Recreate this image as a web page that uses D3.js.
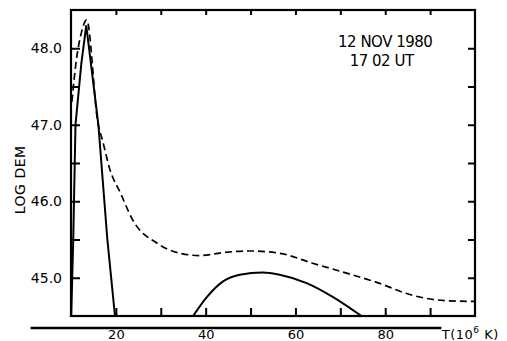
<!doctype html>
<meta charset="utf-8">
<style>
    body { margin: 0; background: #fff; }
    text { font-family: "DejaVu Sans", "Liberation Sans", sans-serif; fill: #000; }
    .axis path.domain { display: none; }
    .axis line { stroke: #000; stroke-width: 2; }
</style>
<html>
<head>
    <script src="https://d3js.org/d3.v7.min.js"></script>
</head>
<body>
<div id="dem_chart"></div>
<script>

    // tick labels
    var tempLabels = [20, 40, 60, 80];
    var tempTicks = [20, 30, 40, 50, 60, 70, 80, 90];
    var demLabels = [45.0, 46.0, 47.0, 48.0];
    var demTicks = [45.0, 45.5, 46.0, 46.5, 47.0, 47.5, 48.0];

    // low temperature peak (solid)
    var peakT   = [10.05, 10.5, 11.0, 12.3, 13.4, 16.1, 18.1, 19.8];
    var peakDem = [44.5, 45.5, 47.0, 47.8, 48.3, 47.0, 45.5, 44.5];

    // hot component (solid)
    var humpT   = [37.2, 40.3, 43.8, 47.6, 52.7, 56.5, 62.5, 68.3, 74.7];
    var humpDem = [44.5, 44.75, 44.95, 45.04, 45.07, 45.04, 44.93, 44.75, 44.5];

    // total (dashed)
    var totalT   = [10.2, 11.2, 12.3, 13.5, 16.0, 17.0, 18.7, 21.0, 23.8, 29.2, 34.3, 38.7, 44.0, 49.8, 56.5, 63.8, 71.4, 78.1, 86.1, 93.6, 100];
    var totalDem = [47.3, 47.85, 48.2, 48.37, 47.02, 46.8, 46.41, 46.11, 45.75, 45.45, 45.32, 45.29, 45.33, 45.35, 45.32, 45.19, 45.06, 44.94, 44.77, 44.70, 44.69];

    var width = 507, height = 341;
    var margin = {top: 10, right: 32, bottom: 25, left: 71};

    var svg = d3.select("#dem_chart")
        .append("svg")
        .attr("width", width)
        .attr("height", height);

    var x = d3.scaleLinear().domain([10, 100]).range([margin.left, width - margin.right]);
    var y = d3.scaleLinear().domain([44.5, 48.5]).range([height - margin.bottom, margin.top]);

    svg.append("clipPath").attr("id", "frame")
        .append("rect")
        .attr("x", x(10)).attr("y", y(48.5))
        .attr("width", x(100) - x(10)).attr("height", y(44.5) - y(48.5));

    // inward ticks on all four sides
    svg.append("g").attr("class", "axis")
        .attr("transform", "translate(" + x(10) + ",0)")
        .call(d3.axisLeft(y).tickValues(demTicks).tickSizeInner(-9).tickSizeOuter(0).tickPadding(9)
            .tickFormat(function(d) { return demLabels.indexOf(d) >= 0 ? d3.format(".1f")(d) : ""; }))
        .selectAll("text")
        .style("font-size", "14px");

    svg.append("g").attr("class", "axis")
        .attr("transform", "translate(" + x(100) + ",0)")
        .call(d3.axisRight(y).tickValues(demTicks).tickSizeInner(-7).tickSizeOuter(0).tickFormat(""));

    svg.append("g").attr("class", "axis")
        .attr("transform", "translate(0," + y(48.5) + ")")
        .call(d3.axisTop(x).tickValues(tempTicks).tickSizeInner(-5).tickSizeOuter(0).tickFormat(""));

    svg.append("g").attr("class", "axis")
        .attr("transform", "translate(0," + y(44.5) + ")")
        .call(d3.axisBottom(x).tickValues(tempTicks).tickSizeInner(-8).tickSizeOuter(0).tickFormat(""));

    // frame
    svg.append("rect")
        .attr("x", x(10)).attr("y", y(48.5))
        .attr("width", x(100) - x(10)).attr("height", y(44.5) - y(48.5))
        .attr("fill", "none").attr("stroke", "#000").attr("stroke-width", 2.2);

    // separate temperature axis underneath
    var axisY = y(44.5) + 12;
    svg.append("line")
        .attr("x1", x(1)).attr("x2", x(92.5))
        .attr("y1", axisY).attr("y2", axisY)
        .attr("stroke", "#000").attr("stroke-width", 2.5);

    svg.append("g").attr("class", "axis")
        .attr("transform", "translate(0," + axisY + ")")
        .call(d3.axisBottom(x).tickValues(tempLabels).tickSize(0).tickPadding(2))
        .selectAll("text")
        .style("font-size", "13px");

    var unit = svg.append("text")
        .attr("x", x(92.6))
        .attr("y", axisY + 11)
        .style("font-size", "13px")
        .attr("letter-spacing", "0.5px");
    unit.append("tspan").text("T(10");
    unit.append("tspan").attr("dy", -6).style("font-size", "9px").text("6");
    unit.append("tspan").attr("dy", 6).text(" K)");

    svg.append("text")
        .attr("transform", "translate(25," + y(46.28) + ") rotate(-90)")
        .attr("text-anchor", "middle")
        .style("font-size", "14px")
        .attr("letter-spacing", "0.5px")
        .text("LOG DEM");

    svg.append("text")
        .attr("x", x(80)).attr("y", y(48.0) - 1)
        .attr("text-anchor", "middle")
        .style("font-size", "15px")
        .attr("letter-spacing", "-0.5px")
        .text("12 NOV 1980");
    svg.append("text")
        .attr("x", x(79.2)).attr("y", y(47.75) - 1)
        .attr("text-anchor", "middle")
        .style("font-size", "15px")
        .attr("letter-spacing", "-0.5px")
        .text("17 02 UT");

    // curves
    function pts(ts, ds) { return ts.map(function(t, i) { return [t, ds[i]]; }); }

    var plot = svg.append("g").attr("clip-path", "url(#frame)");

    plot.append("path")
        .datum(pts(peakT, peakDem))
        .attr("fill", "none").attr("stroke", "#000").attr("stroke-width", 2)
        .attr("d", d3.line().x(function(d) { return x(d[0]); }).y(function(d) { return y(d[1]); }));

    plot.append("path")
        .datum(pts(humpT, humpDem))
        .attr("fill", "none").attr("stroke", "#000").attr("stroke-width", 2)
        .attr("d", d3.line().curve(d3.curveMonotoneX).x(function(d) { return x(d[0]); }).y(function(d) { return y(d[1]); }));

    plot.append("path")
        .datum(pts(totalT, totalDem))
        .attr("fill", "none").attr("stroke", "#000").attr("stroke-width", 1.7)
        .attr("stroke-dasharray", "7,4")
        .attr("d", d3.line().curve(d3.curveMonotoneX).x(function(d) { return x(d[0]); }).y(function(d) { return y(d[1]); }));

</script>
</body>
</html>
